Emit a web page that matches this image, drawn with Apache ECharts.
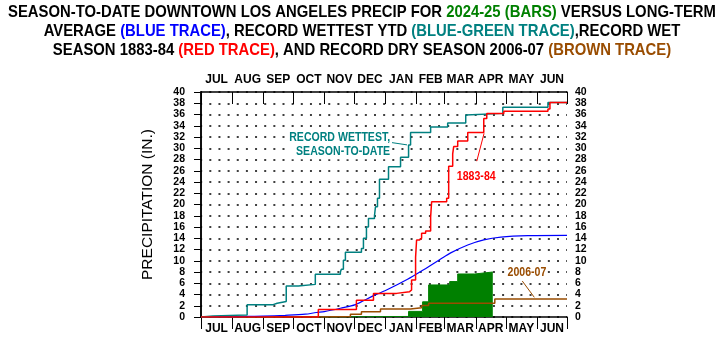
<!DOCTYPE html>
<html>
<head>
<meta charset="utf-8">
<script src="https://cdn.jsdelivr.net/npm/echarts@6/dist/echarts.min.js"></script>
<style>
html,body{margin:0;padding:0;background:#fff;}
#chart{width:724px;height:358px;}
</style>
</head>
<body>
<div id="chart"></div>
<script>
// ---- data (day of season from Jul 1, inches) ----
const monthNames = ['JUL','AUG','SEP','OCT','NOV','DEC','JAN','FEB','MAR','APR','MAY','JUN'];
const monthStartDays = [0,31,62,92,123,153,184,215,243,274,304,335,365];
const yMin = 0, yMax = 40, yStep = 2;

// 2024-25 season to date (bars)
const season2425 = [[0,0],[122,0.1],[207,1.0],[221,2.7],[227,5.7],[248,6.3],[256,7.65],[273,8.0],[291,8.0]];
// long-term average (blue)
const averageTrace = [[0,0],[31,0.02],[47,0.1],[62,0.15],[84,0.3],[104,0.5],[115,0.8],[123,0.95],[139,1.55],[154,2.2],[172,3.8],[184,4.7],[206,6.7],[222,8.4],[239,10.3],[249,11.4],[266,12.8],[282,13.7],[299,14.2],[326,14.45],[365,14.5]];
// record wettest season-to-date (blue-green)
const recordYTD = [[0,0],[1,0.2],[12,0.35],[46,2.2],[72,2.45],[76,2.75],[85,5.5],[97,5.8],[114,7.6],[139,8.0],[140,8.5],[142,10.1],[144,11.5],[160,12.2],[162,14.0],[165,16.0],[167,17.5],[173,18.0],[174,19.6],[176,21.1],[178,24.5],[187,26.7],[199,28.4],[207,30.6],[209,32.8],[229,33.8],[246,34.5],[264,35.9],[265,36.2],[301,37.3],[346,38.15],[365,38.15]];
// record wet season 1883-84 (red)
const wet1883 = [[0,0],[117,1.35],[155,3.0],[172,4.2],[195,4.5],[208,4.8],[210,6.6],[214,10.6],[215,13.7],[218,14.0],[220,14.9],[224,15.3],[229,17.8],[230,20.5],[245,21.1],[247,26.8],[251,29.0],[252,30.3],[256,31.3],[266,32.8],[282,35.3],[285,36.2],[302,36.6],[346,37.0],[348,38.15],[365,38.15]];
// record dry season 2006-07 (brown)
const dry2006 = [[0,0],[115,0.1],[149,0.5],[160,0.95],[179,1.42],[209,1.65],[220,2.05],[227,2.45],[293,3.2],[365,3.2]];

const titleText = 'SEASON-TO-DATE DOWNTOWN LOS ANGELES PRECIP FOR {g|2024-25 (BARS)} VERSUS LONG-TERM\nAVERAGE {b|(BLUE TRACE)}, RECORD WETTEST YTD {t|(BLUE-GREEN TRACE)},RECORD WET\nSEASON 1883-84 {r|(RED TRACE)}, AND RECORD DRY SEASON 2006-07 {o|(BROWN TRACE)}';

// ---- styling ----
const SANS = '"Liberation Sans",Arial,sans-serif';
const C = {teal:'#008080', blue:'#0000ff', red:'#ff0000', brown:'#994c00', green:'#008000'};

const midDays = monthNames.map((m,i)=> (monthStartDays[i]+monthStartDays[i+1])/2);
function monthLabel(v){
  let best=0, d=1e9;
  midDays.forEach((m,i)=>{ if (Math.abs(m-v)<d){d=Math.abs(m-v);best=i;} });
  return monthNames[best];
}

const chart = echarts.init(document.getElementById('chart'), null, {renderer:'canvas'});

const xBase = {
  type:'value', min:0, max:365,
  axisLine:{show:true, onZero:false, lineStyle:{color:'#000', width:1.5}},
  axisTick:{show:true, customValues: monthStartDays, length:12, lineStyle:{color:'#000', width:1}},
  axisLabel:{customValues: midDays, formatter: monthLabel, fontFamily:SANS, fontWeight:'bold', fontSize:12, color:'#000', margin:6},
  splitLine:{show:false}
};
const yLabel = {fontFamily:SANS, fontWeight:'bold', fontSize:10.5, color:'#000'};
const TFONT = 'bold 16.5px ' + SANS;
const tokenStyle = c => ({fill:c, font:TFONT, lineHeight:19});

const option = {
  animation:false,
  backgroundColor:'#fff',
  grid:{left:201, right:157, top:92, bottom:41, containLabel:false},
  xAxis:[
    Object.assign({}, xBase, {position:'bottom'}),
    Object.assign({}, xBase, {position:'top', axisTick:Object.assign({}, xBase.axisTick, {inside:true})})
  ],
  yAxis:[
    {type:'value', min:yMin, max:yMax, interval:yStep, position:'left',
     name:'PRECIPITATION (IN.)', nameLocation:'middle', nameGap:45, nameRotate:90,
     nameTextStyle:{fontFamily:SANS, fontSize:15.5, color:'#000'},
     axisLine:{show:true, lineStyle:{color:'#000', width:1.5}},
     axisTick:{show:false},
     axisLabel:Object.assign({margin:16}, yLabel),
     splitLine:{show:true, lineStyle:{color:'#000', width:1.5, type:[2,7.15], dashOffset:0.85}}
    },
    {type:'value', min:yMin, max:yMax, interval:yStep, position:'right',
     axisLine:{show:true, lineStyle:{color:'#000', width:1.5}},
     axisTick:{show:true, inside:true, length:7, lineStyle:{color:'#000', width:1}},
     axisLabel:Object.assign({margin:8, align:'left'}, yLabel),
     splitLine:{show:false}
    }
  ],
  series:[
    {name:'2024-25', type:'line', step:'end', data:season2425, symbol:'none', z:1,
     lineStyle:{color:C.green, width:1}, areaStyle:{color:C.green, opacity:1}},
    {name:'2006-07', type:'line', step:'end', data:dry2006, symbol:'none', z:2,
     lineStyle:{color:C.brown, width:1.5}},
    {name:'Average', type:'line', smooth:0.3, data:averageTrace, symbol:'none', z:3,
     lineStyle:{color:C.blue, width:1.2}},
    {name:'Record YTD', type:'line', step:'end', data:recordYTD, symbol:'none', z:4,
     lineStyle:{color:C.teal, width:1.5}},
    {name:'1883-84', type:'line', step:'end', data:wet1883, symbol:'none', z:5,
     lineStyle:{color:C.red, width:1.5}}
  ]
};
chart.setOption(option);

// ---- title (condensed bold, centred) ----
const graphics = [{
  type:'text', x:362, y:3, scaleX:0.9, z:100,
  style:{text:titleText, fill:'#000', font:TFONT, lineHeight:19, align:'center', verticalAlign:'top',
    rich:{g:tokenStyle(C.green), b:tokenStyle(C.blue), t:tokenStyle(C.teal), r:tokenStyle(C.red), o:tokenStyle(C.brown)}}
}];

// ---- annotations placed in data coordinates ----
const notes = [
  {text:'RECORD WETTEST,\nSEASON-TO-DATE', color:C.teal, at:[189.5,30.55], align:'right', from:[190.5,31.0], to:[205.5,30.6]},
  {text:'1883-84', color:C.red, at:[274.5,24.95], align:'center', from:[275,27.7], to:[282.3,32.65]},
  {text:'2006-07', color:C.brown, at:[325,7.85], align:'center', from:[320.4,6.4], to:[332.4,3.5]}
];
const px = p => chart.convertToPixel({seriesIndex:0}, p);
notes.forEach(n=>{
  const a = px(n.at), f = px(n.from), t = px(n.to);
  graphics.push({type:'text', x:a[0], y:a[1], scaleX:0.88, z:100, style:{text:n.text, fill:n.color, font:'bold 12px '+SANS, align:n.align, verticalAlign:'middle', lineHeight:14, backgroundColor:'#fff', padding:[0,1]}});
  graphics.push({type:'line', z:99, shape:{x1:f[0], y1:f[1], x2:t[0], y2:t[1]}, style:{stroke:n.color, lineWidth:1}});
});
chart.setOption({graphic:graphics});
</script>
</body>
</html>
